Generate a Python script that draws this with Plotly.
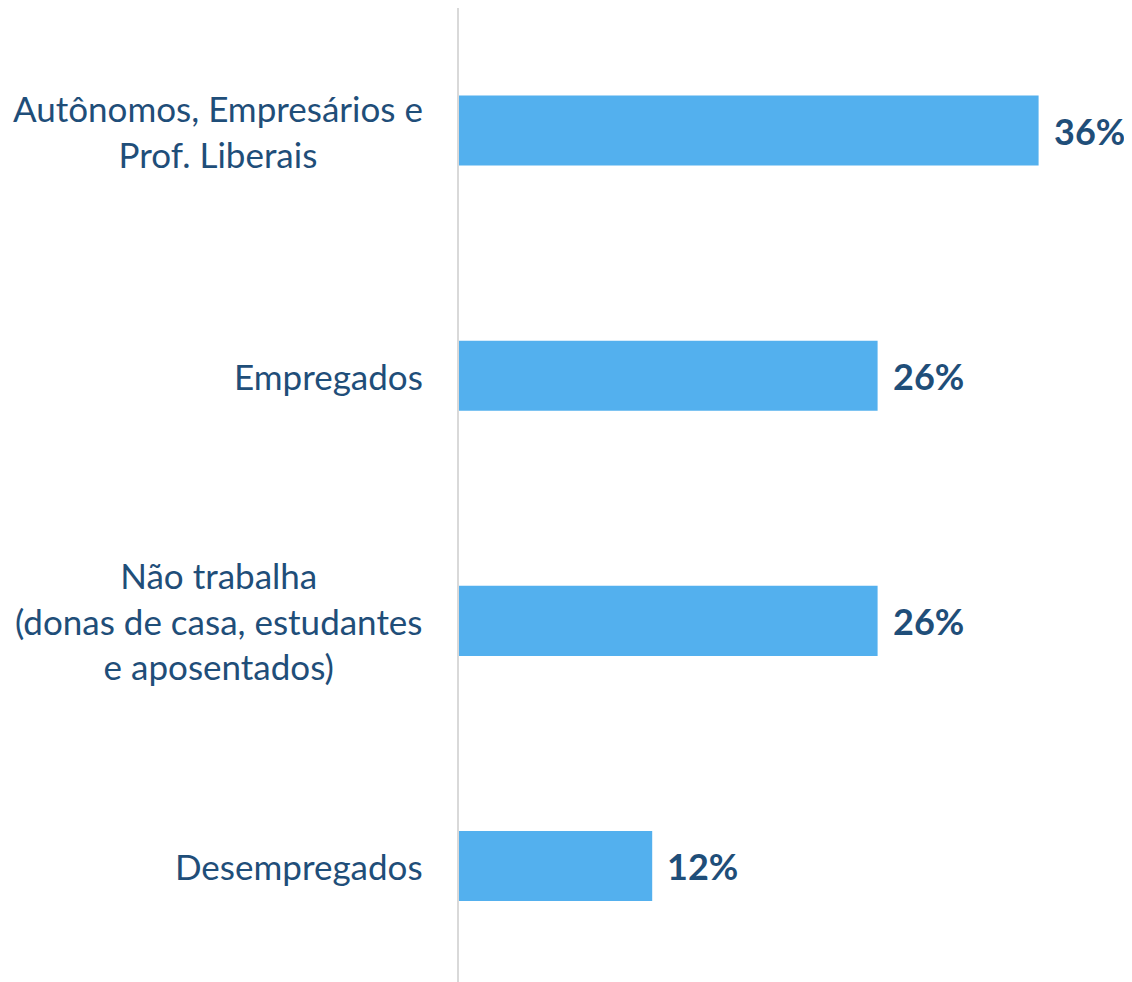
import plotly.graph_objects as go

categories = ["Autônomos, Empresários e<br>Prof. Liberais", "Empregados",
              "Não trabalha<br>(donas de casa, estudantes<br>e aposentados)", "Desempregados"]
values = [36, 26, 26, 12]
value_labels = ["36%", "26%", "26%", "12%"]

TEXT = "#1F4E79"
FONT = "Lato"

fig = go.Figure()
fig.add_trace(go.Bar(
    x=values, y=categories, orientation="h", width=0.286,
    marker=dict(color="#53B0EE", line=dict(width=0)),
    hoverinfo="skip",
))

for c in categories:
    fig.add_annotation(x=0, xref="paper", xshift=-34, y=c, yref="y",
                       text=c, showarrow=False, xanchor="right", align="center",
                       font=dict(family=FONT, size=35, color=TEXT))

for v, lab, c in zip(values, value_labels, categories):
    fig.add_annotation(x=v, xref="x", y=c, yref="y", xshift=13,
                       text=lab, showarrow=False, xanchor="left",
                       font=dict(family=FONT, size=36, color=TEXT, weight="bold"))

fig.update_layout(
    width=1132, height=982, margin=dict(l=451, r=37, t=0, b=0),
    paper_bgcolor="white", plot_bgcolor="white", showlegend=False,
)
fig.update_xaxes(range=[0, 40], visible=False, showgrid=False, zeroline=False)
fig.update_yaxes(type="category", categoryorder="array", categoryarray=categories,
                 range=[3.506, -0.5], showticklabels=False, showgrid=False,
                 showline=True, linecolor="#D9D9D9", linewidth=2, ticks="", zeroline=False)

fig.write_html("out.html")
